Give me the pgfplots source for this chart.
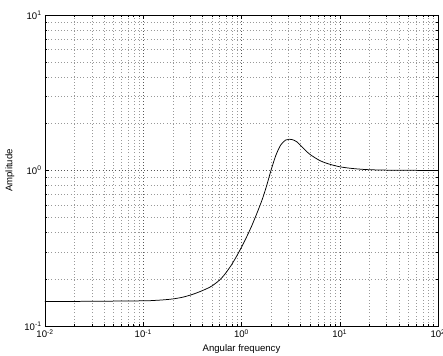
\documentclass[border=0pt]{standalone}
\usepackage{fontspec}
\setmainfont{Liberation Sans}
\usepackage{pgfplots}
\pgfplotsset{compat=1.18}
\begin{document}
\begin{tikzpicture}
\begin{axis}[
  at={(0,0)}, anchor=south west,
  scale only axis, width=393bp, height=311bp,
  xmode=log, ymode=log,
  xmin=0.01, xmax=100, ymin=0.1, ymax=10,
  xtick={0.01,0.1,1,10,100},
  xticklabels={10\textsuperscript{-2},10\textsuperscript{-1},10\textsuperscript{0},10\textsuperscript{1},10\textsuperscript{2}},
  ytick={0.1,1,10},
  yticklabels={10\textsuperscript{-1},10\textsuperscript{0},10\textsuperscript{1}},
  minor xtick={0.02,0.03,0.04,0.05,0.06,0.07,0.08,0.09,0.2,0.3,0.4,0.5,0.6,0.7,0.8,0.9,2,3,4,5,6,7,8,9,20,30,40,50,60,70,80,90},
  minor ytick={0.2,0.3,0.4,0.5,0.6,0.7,0.8,0.9,2,3,4,5,6,7,8,9},
  grid=both,
  major grid style={black!65, line width=0.45pt, dash pattern=on 0.8bp off 2.4bp},
  minor grid style={black!40, line width=0.45pt, dash pattern=on 0.8bp off 2.4bp},
  axis line style={black, line width=0.6pt},
  tick style={black, line width=0.5pt},
  major tick length=4bp, minor tick length=2.5bp,
  tick align=inside,
  font=\fontsize{9.6}{11}\selectfont,
  ticklabel style={font=\fontsize{9.6}{11}\selectfont},
  xlabel={Angular frequency}, ylabel={Amplitude},
  xlabel style={at={(axis description cs:0.5,-0.074)}, anchor=center, font=\fontsize{9.6}{11}\selectfont},
  ylabel style={at={(axis description cs:-0.089,0.5)}, anchor=center, font=\fontsize{9.6}{11}\selectfont},
]
\addplot[black, line width=0.75pt, smooth, tension=0.5] coordinates {
(0.01,0.1436) (0.0316,0.1442) (0.1,0.1452) (0.1259,0.1459) (0.1585,0.1472) (0.1995,0.1493) (0.2512,0.1531) (0.3162,0.1596) (0.3981,0.1687) (0.5012,0.1811) (0.6310,0.2042) (0.7943,0.2483) (1,0.3214) (1.2589,0.4345) (1.5849,0.6237) (1.7783,0.7762) (1.9953,1.0) (2.2387,1.253) (2.5119,1.462) (2.8184,1.570) (3.069,1.589) (3.311,1.578) (3.648,1.531) (3.981,1.452) (4.467,1.349) (5.012,1.265) (6.310,1.156) (7.943,1.096) (10,1.057) (12.59,1.035) (15.85,1.021) (19.95,1.012) (31.62,1.005) (100,1.0)
};
\end{axis}
\pgfresetboundingbox
\path[use as bounding box] (-45bp,-30bp) rectangle (398bp,326bp);
\end{tikzpicture}
\end{document}
